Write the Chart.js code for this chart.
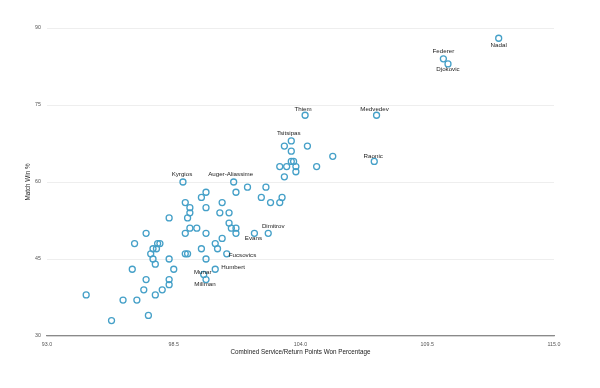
<!DOCTYPE html>
<html>
<head>
<meta charset="utf-8">
<title>Match Win % vs Combined Service/Return Points Won</title>
<script src="https://cdn.jsdelivr.net/npm/chart.js@4.4.1/dist/chart.umd.min.js"></script>
<style>
    body { margin: 0; background: #ffffff; }
    #wrap { width: 600px; height: 388px; }
</style>
</head>
<body>
<div id="wrap"><canvas id="scatterChart" width="600" height="388"></canvas></div>
<script>
// Data
const servicePct = [
    94.7, 95.8, 96.3, 96.9, 97.4, 97.2, 97.7, 98.0, 98.3, 98.3,
    97.3, 96.7, 98.5, 98.3, 97.7, 97.6, 97.5, 97.6, 97.75, 97.8,
    97.9, 96.8, 97.3, 98.3, 99.0, 99.2, 99.2, 99.1, 99.0, 99.2,
    99.5, 99.9, 100.6, 100.3, 100.4, 99.7, 99.0, 99.1, 99.9, 100.8,
    100.3, 99.8, 99.9, 98.9, 101.1, 101.2, 99.9, 99.7, 101.7, 102.5,
    102.3, 102.7, 103.1, 103.2, 99.9, 100.6, 100.5, 100.9, 100.9, 101.0,
    101.2, 101.2, 102.0, 102.6, 103.3, 103.1, 103.4, 103.8, 103.8, 104.7,
    103.6, 103.7, 103.6, 103.3, 104.3, 103.6, 105.4, 104.2, 107.3, 107.2,
    110.2, 110.4, 112.6
];
const matchWinPct = [
    38, 33, 37, 37, 34, 39, 38, 39, 40, 41,
    41, 43, 43, 45, 44, 45, 46, 47, 47, 48,
    48, 48, 50, 53, 56, 55, 54, 53, 50, 51,
    51, 50, 49, 48, 47, 47, 46, 46, 45, 46,
    43, 42, 41, 60, 60, 58, 58, 57, 59, 59,
    57, 56, 56, 57, 55, 56, 54, 54, 52, 51,
    51, 50, 50, 50, 61, 63, 63, 63, 62, 63,
    64, 64, 66, 67, 67, 68, 65, 73, 73, 64,
    84, 83, 88
];
const playerNames = [
    '', '', '', '', '', '', '', '', '', '',
    '', '', '', '', '', '', '', '', '', '',
    '', '', '', '', '', '', '', '', '', '',
    '', '', '', '', '', '', '', '', '', 'Fucsovics',
    'Humbert', 'Munar', 'Millman', 'Kyrgios', 'Auger-Aliassime', '', '', '', '', '',
    '', '', '', '', '', '', '', '', '', '',
    '', '', 'Evans', 'Dimitrov', '', '', '', '', '', '',
    '', '', '', '', '', 'Tsitsipas', '', 'Thiem', 'Medvedev', 'Raonic',
    'Federer', 'Djokovic', 'Nadal'
];
const xTickValues = [93, 98.5, 104, 109.5, 115];
const yTickValues = [30, 45, 60, 75, 90];

// where each name sits relative to its point (dx, dy in px, text alignment)
const labelOffsets = {
    'Nadal': [0, 7, 'center'],
    'Federer': [0, -7.6, 'center'],
    'Djokovic': [0, 5.4, 'center'],
    'Thiem': [-2, -5.5, 'center'],
    'Medvedev': [-2, -5.5, 'center'],
    'Tsitsipas': [-2.5, -7.7, 'center'],
    'Raonic': [-1, -5.5, 'center'],
    'Kyrgios': [-1, -7.7, 'center'],
    'Auger-Aliassime': [-3, -7.7, 'center'],
    'Dimitrov': [5, -7.3, 'center'],
    'Evans': [-1, 4.7, 'center'],
    'Fucsovics': [2, 1, 'left'],
    'Humbert': [6, -2.3, 'left'],
    'Munar': [-1, -2.3, 'center'],
    'Millman': [-1, 4.4, 'center']
};

const FONT = '"Liberation Sans", Arial, Helvetica, sans-serif';

// draws the player names next to their points
const nameLabels = {
    id: 'nameLabels',
    afterDatasetsDraw(chart) {
        const ctx = chart.ctx;
        const xs = chart.scales.x;
        const ys = chart.scales.y;
        ctx.save();
        ctx.font = '6.2px ' + FONT;
        ctx.fillStyle = '#222222';
        ctx.textBaseline = 'middle';
        playerNames.forEach((name, i) => {
            if (!name) return;
            const off = labelOffsets[name] || [0, -7, 'center'];
            ctx.textAlign = off[2];
            ctx.fillText(name, xs.getPixelForValue(servicePct[i]) + off[0], ys.getPixelForValue(matchWinPct[i]) + off[1]);
        });
        ctx.restore();
    }
};

document.addEventListener('DOMContentLoaded', function() {
    const points = servicePct.map((x, i) => ({ x: x, y: matchWinPct[i] }));

    const ctx = document.getElementById('scatterChart').getContext('2d');
    new Chart(ctx, {
        type: 'scatter',
        data: {
            datasets: [{
                label: 'Players',
                data: points,
                pointRadius: 3,
                pointBorderWidth: 1.3,
                borderColor: '#45a0c8',
                backgroundColor: 'rgba(255, 255, 255, 0)'
            }]
        },
        options: {
            responsive: false,
            animation: false,
            layout: { padding: { top: 28, right: 46, left: 0, bottom: 0 } },
            plugins: {
                legend: { display: false },
                tooltip: { enabled: false }
            },
            scales: {
                x: {
                    type: 'linear',
                    min: 93,
                    max: 115,
                    afterBuildTicks: scale => { scale.ticks = xTickValues.map(v => ({ value: v })); },
                    afterFit: scale => { scale.height = 52; },
                    grid: { display: false, drawTicks: false },
                    border: { display: true, color: '#8a8a8a', width: 1.3 },
                    ticks: {
                        padding: 5,
                        color: '#555555',
                        font: { family: FONT, size: 5.3 },
                        callback: v => Number(v).toFixed(1)
                    },
                    title: {
                        display: true,
                        text: 'Combined Service/Return Points Won Percentage',
                        color: '#222222',
                        font: { family: FONT, size: 6.3 },
                        padding: { top: 0, bottom: 32 }
                    }
                },
                y: {
                    type: 'linear',
                    min: 30,
                    max: 90,
                    afterBuildTicks: scale => { scale.ticks = yTickValues.map(v => ({ value: v })); },
                    afterFit: scale => { scale.width = 47; },
                    grid: { color: '#eeeeee', lineWidth: 1, drawTicks: false },
                    border: { display: false },
                    ticks: {
                        padding: 6,
                        color: '#555555',
                        font: { family: FONT, size: 5.3 }
                    },
                    title: {
                        display: true,
                        text: 'Match Win %',
                        color: '#222222',
                        font: { family: FONT, size: 6.3 },
                        padding: { top: 24, bottom: 0 }
                    }
                }
            }
        },
        plugins: [nameLabels]
    });
});
</script>
</body>
</html>
